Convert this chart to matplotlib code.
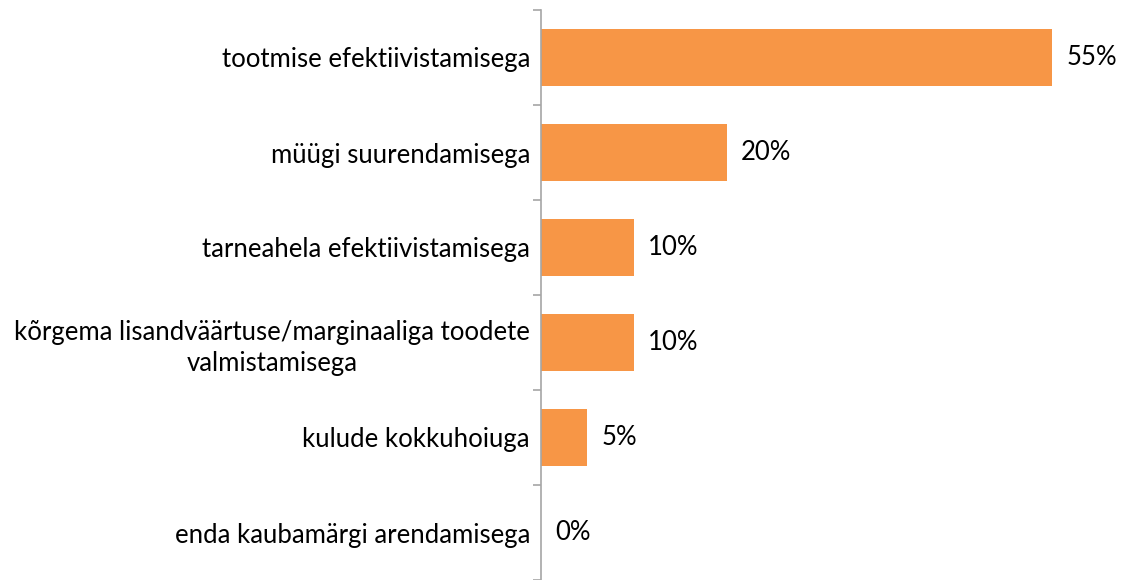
import matplotlib
matplotlib.use("Agg")
import matplotlib.pyplot as plt
import numpy as np

categories = [
    "tootmise efektiivistamisega",
    "müügi suurendamisega",
    "tarneahela efektiivistamisega",
    "kõrgema lisandväärtuse/marginaaliga toodete\nvalmistamisega",
    "kulude kokkuhoiuga",
    "enda kaubamärgi arendamisega",
]
values = [55, 20, 10, 10, 5, 0]

plt.rcParams['font.family'] = ['Lato', 'DejaVu Sans']

fig = plt.figure(figsize=(11.22, 5.8), dpi=100)
ax = fig.add_axes([541 / 1122, 0.0, 1 - 541 / 1122, 570 / 580])

y = np.arange(len(categories))
ax.barh(y, values, height=0.61, color="#F79646")
for yi, v in zip(y, values):
    ax.annotate(f"{v}%", (v, yi), xytext=(10, 0), textcoords="offset points",
                va="center", ha="left", fontsize=18.5, color="#000000")

ax.set_xlim(0, 62.5)
ax.set_ylim(len(categories) - 0.5, -0.5)
ax.set_yticks(y)
ax.set_yticklabels(categories, fontsize=18.5, multialignment="center", linespacing=1.3)
ax.set_yticks(np.arange(len(categories) + 1) - 0.5, minor=True)
ax.tick_params(axis="y", which="major", length=0, pad=8)
ax.tick_params(axis="y", which="minor", length=6, color="#A6A6A6", width=1.2)
ax.set_xticks([])
for s in ["top", "right", "bottom"]:
    ax.spines[s].set_visible(False)
ax.spines["left"].set_color("#A6A6A6")
ax.spines["left"].set_linewidth(1.2)

fig.savefig("out.png", dpi=100)
